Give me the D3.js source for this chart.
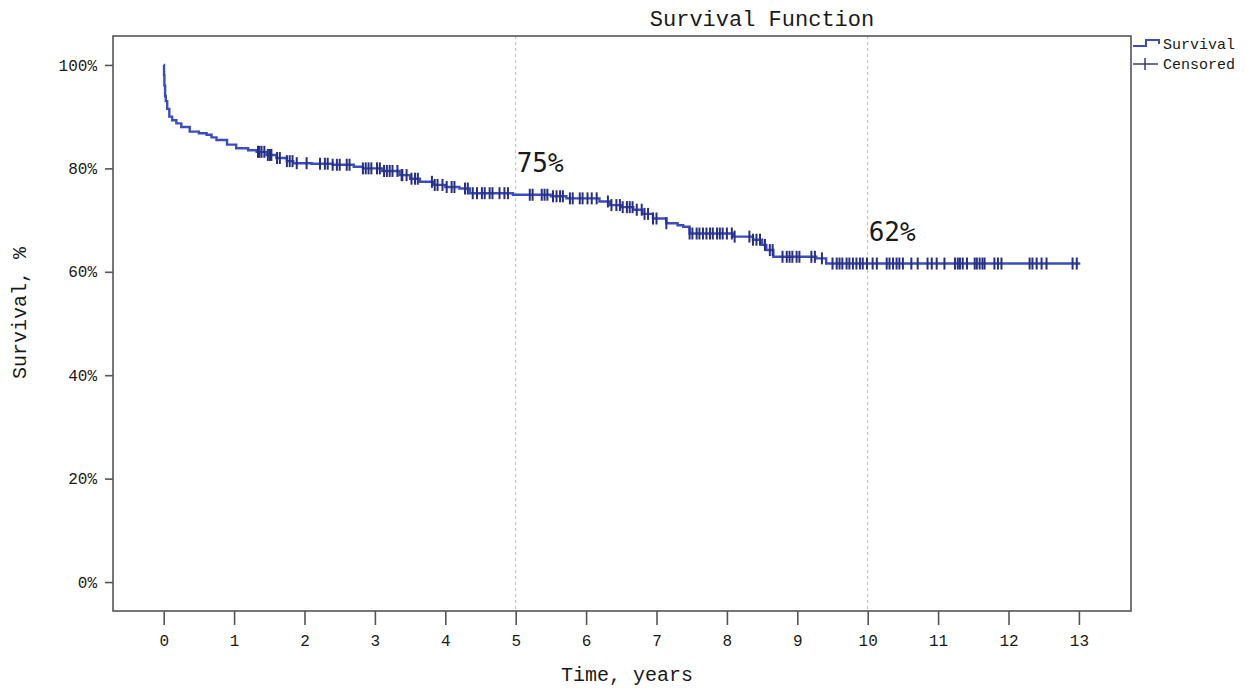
<!DOCTYPE html>
<html>
<head>
<meta charset="utf-8">
<script src="https://cdn.jsdelivr.net/npm/d3@7"></script>
<style>
body { margin:0; background:#fff; }
svg { display:block; }
.tick text { font-family:"Liberation Mono", monospace; font-size:16px; fill:#1a1a1a; }
.lab { font-family:"Liberation Mono", monospace; fill:#1a1a1a; }
.ann { font-family:"DejaVu Sans Mono", monospace; font-size:26px; fill:#1a1a1a; }
</style>
</head>
<body>
<script>
// survival curve (years, %)
var times = [0,0.005,0.01,0.02,0.03,0.05,0.08,0.12,0.18,0.25,0.37,0.5,0.61,0.68,0.75,0.9,1.03,1.2,1.32,1.46,1.6,1.75,1.84,2.1,2.4,2.7,2.83,3.1,3.35,3.5,3.64,3.83,4.0,4.2,4.35,4.96,5.5,5.72,6.19,6.34,6.5,6.67,6.8,6.95,7.14,7.3,7.38,7.47,8.09,8.37,8.5,8.56,8.66,9.27,9.41,13.02];
var survival = [100,98,96,94,93,91.5,90,89.3,88.7,88.0,87.1,86.8,86.5,86.0,85.5,84.6,83.9,83.5,83.2,82.6,82.0,81.4,81.0,80.9,80.7,80.3,80.0,79.5,78.7,78.0,77.4,76.8,76.4,76.1,75.2,74.9,74.6,74.2,73.6,72.9,72.5,72.0,71.2,70.3,69.4,69.0,68.7,67.4,66.8,66.2,65.2,64.2,62.9,62.6,61.6,61.6];
// censored times (years)
var censored = [1.34,1.36,1.39,1.43,1.48,1.51,1.53,1.61,1.65,1.75,1.79,1.83,1.89,2.03,2.22,2.29,2.33,2.40,2.46,2.50,2.60,2.64,2.83,2.87,2.91,2.95,3.03,3.07,3.13,3.17,3.21,3.25,3.32,3.38,3.39,3.45,3.52,3.57,3.61,3.81,3.85,3.89,3.96,4.02,4.09,4.13,4.28,4.32,4.39,4.45,4.52,4.56,4.63,4.67,4.77,4.84,4.89,5.20,
5.24,5.37,5.41,5.45,5.53,5.58,5.63,5.67,5.77,5.81,5.91,5.95,6.02,6.08,6.15,6.31,6.36,6.43,6.48,6.52,6.58,6.62,6.66,6.72,6.79,6.83,6.88,6.95,7.00,7.14,
7.47,7.51,7.57,7.61,7.66,7.71,7.76,7.80,7.86,7.90,7.94,8.00,8.07,8.11,8.32,8.37,8.42,8.47,8.54,8.61,8.65,8.79,8.85,8.89,8.93,8.99,9.03,9.20,9.25,9.35,
9.50,9.56,9.60,9.64,9.70,9.74,9.79,9.84,9.89,9.93,9.99,10.07,10.13,10.27,10.31,10.36,10.41,10.45,10.50,10.62,10.71,10.85,10.91,10.98,11.09,11.24,11.28,
11.31,11.35,11.41,11.52,11.55,11.59,11.63,11.66,11.80,11.85,11.90,12.30,12.34,12.40,12.47,12.54,12.91,12.97];
var xTicks = d3.range(0,14);
var yTicks = [0,20,40,60,80,100];
var refLines = [5,10];
var refLabels = ["75%","62%"];

const WIDTH = 1247, HEIGHT = 689;
const M_LEFT = 113, M_RIGHT = 1131, M_TOP = 36, M_BOTTOM = 611;
const LINE_COL = "#3a4cc0", CENS_COL = "#262f80";

var svg = d3.select("body").append("svg").attr("width",WIDTH).attr("height",HEIGHT);

var x = d3.scaleLinear().domain([-0.72,13.74]).range([M_LEFT,M_RIGHT]);
var y = d3.scaleLinear().domain([-5.6,105.6]).range([M_BOTTOM,M_TOP]);

// reference lines
svg.selectAll(".ref").data(refLines).enter().append("line")
    .attr("x1",d=>x(d)).attr("x2",d=>x(d))
    .attr("y1",M_TOP).attr("y2",M_BOTTOM)
    .attr("stroke","#bbb").attr("stroke-width",1).attr("stroke-dasharray","3,3");

// step lookup
var survAt = function(t){
    var i = d3.bisectRight(times,t)-1;
    return survival[Math.max(0,i)];
}

var pts = times.map((t,i)=>[t,survival[i]]);
svg.append("path").datum(pts)
    .attr("d",d3.line().x(d=>x(d[0])).y(d=>y(d[1])).curve(d3.curveStepAfter))
    .attr("fill","none").attr("stroke",LINE_COL).attr("stroke-width",2.4);

svg.selectAll(".cens").data(censored).enter().append("line")
    .attr("x1",d=>x(d)).attr("x2",d=>x(d))
    .attr("y1",d=>y(survAt(d))-6).attr("y2",d=>y(survAt(d))+6)
    .attr("stroke",CENS_COL).attr("stroke-width",2);

// annotations
svg.selectAll(".ann").data(refLines).enter().append("text")
    .attr("class","ann")
    .attr("x",d=>x(d)+1)
    .attr("y",(d,i)=>y(survAt(d))-23)
    .text((d,i)=>refLabels[i]);

// frame
svg.append("rect").attr("x",M_LEFT).attr("y",M_TOP).attr("width",M_RIGHT-M_LEFT).attr("height",M_BOTTOM-M_TOP)
    .attr("fill","none").attr("stroke","#555").attr("stroke-width",1.6);

// axes
var xAxis = svg.append("g").attr("transform","translate(0,"+M_BOTTOM+")")
    .call(d3.axisBottom(x).tickValues(xTicks).tickSize(14).tickPadding(10).tickFormat(d3.format("d")));
var yAxis = svg.append("g").attr("transform","translate("+M_LEFT+",0)")
    .call(d3.axisLeft(y).tickValues(yTicks).tickSize(8).tickPadding(8).tickFormat(d=>d+"%"));
[xAxis,yAxis].forEach(function(g){
    g.select(".domain").remove();
    g.selectAll(".tick line").attr("stroke","#555").attr("stroke-width",1.6);
});

// titles
svg.append("text").attr("class","lab").attr("x",762).attr("y",26).attr("text-anchor","middle").style("font-size","22px").text("Survival Function");
svg.append("text").attr("class","lab").attr("x",627).attr("y",681).attr("text-anchor","middle").style("font-size","20px").text("Time, years");
svg.append("text").attr("class","lab").attr("transform","translate(26,313) rotate(-90)").attr("text-anchor","middle").style("font-size","20px").text("Survival, %");

// legend
var lg = svg.append("g");
lg.append("path").attr("d","M1133,46 H1146 V40 H1159 V44").attr("fill","none").attr("stroke",LINE_COL).attr("stroke-width",2);
lg.append("line").attr("x1",1133).attr("x2",1158).attr("y1",64).attr("y2",64).attr("stroke",CENS_COL).attr("stroke-width",1.4);
lg.append("line").attr("x1",1145).attr("x2",1145).attr("y1",58).attr("y2",70).attr("stroke",CENS_COL).attr("stroke-width",1.4);
lg.append("text").attr("class","lab").attr("x",1163).attr("y",49).style("font-size","15px").text("Survival");
lg.append("text").attr("class","lab").attr("x",1163).attr("y",69).style("font-size","15px").text("Censored");
</script>
</body>
</html>
